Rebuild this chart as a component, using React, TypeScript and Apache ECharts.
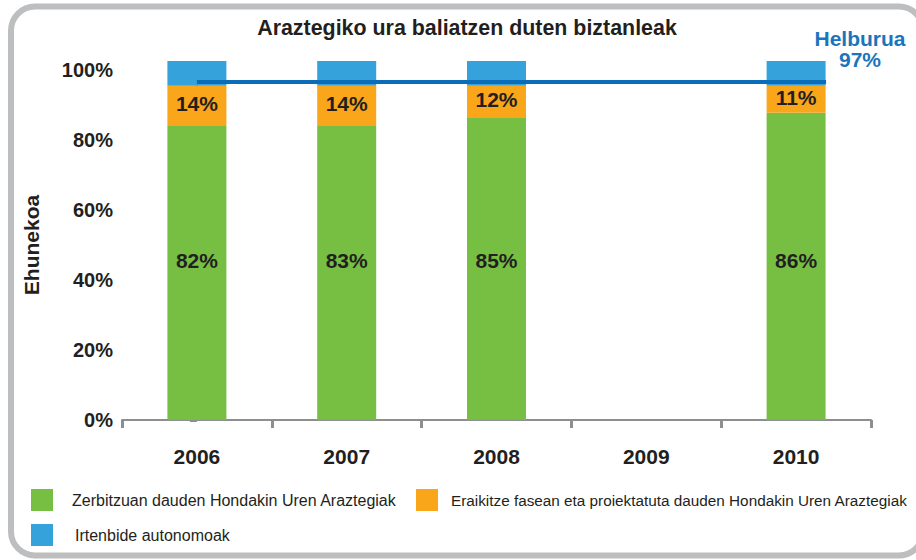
import React, { useEffect, useRef } from "react";
import * as echarts from "echarts";

const years = ["2006", "2007", "2008", "2009", "2010"];
// bar segment heights as drawn (percent of axis)
const greenValues = [84.0, 84.0, 86.3, null, 87.8];
const orangeValues = [11.5, 11.5, 9.2, null, 7.7];
const blueValues = [7.1, 7.1, 7.1, null, 7.1];
// printed labels
const greenLabels = ["82%", "83%", "85%", "", "86%"];
const orangeLabels = ["14%", "14%", "12%", "", "11%"];
// target line
const targetValue = 96.6;
const targetSpan = [0, 4.2];
const yTicks = [0, 20, 40, 60, 80, 100];

const seriesNames = [
  "Zerbitzuan dauden Hondakin Uren Araztegiak",
  "Eraikitze fasean eta proiektatuta dauden Hondakin Uren Araztegiak",
  "Irtenbide autonomoak",
];

const FONT = "'Liberation Sans', Arial, Helvetica, sans-serif";
const DARK = "#231f20";

export default function App() {
  const ref = useRef<HTMLDivElement>(null);
  useEffect(() => {
    if (!ref.current) return;
    const chart = echarts.init(ref.current, null, { renderer: "svg" });
    const legendBase = {
      padding: 0,
      itemWidth: 22,
      itemHeight: 22,
      icon: "rect",
      selectedMode: false,
      orient: "horizontal",
    };
    chart.setOption({
      animation: false,
      backgroundColor: "#ffffff",
      textStyle: { fontFamily: FONT },
      graphic: [
        {
          type: "rect",
          shape: { x: 11, y: 6.5, width: 912, height: 549, r: 24 },
          style: { fill: "none", stroke: "#bdbec0", lineWidth: 6 },
          silent: true,
        },
        {
          type: "text",
          x: 467,
          y: 28,
          style: {
            text: "Araztegiko ura baliatzen duten biztanleak",
            fontFamily: FONT,
            fontSize: 21.4,
            fontWeight: "bold",
            fill: DARK,
            align: "center",
            verticalAlign: "middle",
          },
        },
        {
          type: "text",
          x: 860,
          y: 38,
          style: {
            text: "Helburua",
            fontFamily: FONT,
            fontSize: 21,
            fontWeight: "bold",
            fill: "#1b75bc",
            align: "center",
            verticalAlign: "middle",
          },
        },
        {
          type: "text",
          x: 860,
          y: 59,
          style: {
            text: "97%",
            fontFamily: FONT,
            fontSize: 21,
            fontWeight: "bold",
            fill: "#1b75bc",
            align: "center",
            verticalAlign: "middle",
          },
        },
      ],
      legend: [
        {
          ...legendBase,
          data: [seriesNames[0]],
          left: 31,
          top: 489,
          textStyle: { fontFamily: FONT, fontSize: 16, color: DARK, padding: [0, 0, 0, 14] },
        },
        {
          ...legendBase,
          data: [seriesNames[1]],
          left: 416,
          top: 489,
          textStyle: { fontFamily: FONT, fontSize: 15.3, color: DARK, padding: [0, 0, 0, 8] },
        },
        {
          ...legendBase,
          data: [seriesNames[2]],
          left: 31,
          top: 524,
          textStyle: { fontFamily: FONT, fontSize: 16, color: DARK, padding: [0, 0, 0, 17] },
        },
      ],
      grid: { left: 122, right: 45, top: 70, bottom: 140, containLabel: false },
      xAxis: [
        {
          type: "category",
          data: years,
          axisLine: { lineStyle: { color: "#8c8e90", width: 2 } },
          axisTick: { show: true, length: 8, lineStyle: { color: "#8c8e90", width: 3 } },
          axisLabel: {
            margin: 26,
            fontFamily: FONT,
            fontSize: 21,
            fontWeight: "bold",
            color: DARK,
          },
        },
        {
          type: "value",
          min: -0.5,
          max: 4.5,
          show: false,
        },
      ],
      yAxis: {
        type: "value",
        min: 0,
        max: 100,
        interval: 20,
        name: "Ehunekoa",
        nameLocation: "middle",
        nameRotate: 90,
        nameGap: 80,
        nameTextStyle: { fontFamily: FONT, fontSize: 21, fontWeight: "bold", color: DARK },
        axisLine: { show: true, lineStyle: { color: "#8c8e90", width: 2 } },
        axisTick: { show: true, length: 7, lineStyle: { color: "#8c8e90", width: 3 } },
        splitLine: { show: false },
        axisLabel: {
          margin: 9,
          fontFamily: FONT,
          fontSize: 20,
          fontWeight: "bold",
          color: DARK,
          formatter: (v: number) => (yTicks.includes(v) ? v + "%" : ""),
        },
      },
      series: [
        {
          name: seriesNames[0],
          type: "bar",
          stack: "total",
          barWidth: 59,
          clip: false,
          data: greenValues,
          itemStyle: { color: "#77bf43" },
          label: {
            show: true,
            position: "insideBottom",
            distance: 149,
            fontFamily: FONT,
            fontSize: 21,
            fontWeight: "bold",
            color: DARK,
            formatter: (p: any) => greenLabels[p.dataIndex],
          },
        },
        {
          name: seriesNames[1],
          type: "bar",
          stack: "total",
          barWidth: 59,
          clip: false,
          data: orangeValues,
          itemStyle: { color: "#f9a61b" },
          label: {
            show: true,
            position: "inside",
            offset: [0, -2],
            fontFamily: FONT,
            fontSize: 21,
            fontWeight: "bold",
            color: DARK,
            formatter: (p: any) => orangeLabels[p.dataIndex],
          },
        },
        {
          name: seriesNames[2],
          type: "bar",
          stack: "total",
          barWidth: 59,
          clip: false,
          data: blueValues,
          itemStyle: { color: "#35a2dc" },
        },
        {
          name: "Helburua",
          type: "line",
          xAxisIndex: 1,
          z: 5,
          symbol: "none",
          data: targetSpan.map((x) => [x, targetValue]),
          lineStyle: { color: "#0b6db7", width: 4 },
        },
      ],
    });
    return () => chart.dispose();
  }, []);
  return (
    <div
      ref={ref}
      style={{ position: "absolute", left: 0, top: 0, width: 916, height: 560 }}
    />
  );
}
